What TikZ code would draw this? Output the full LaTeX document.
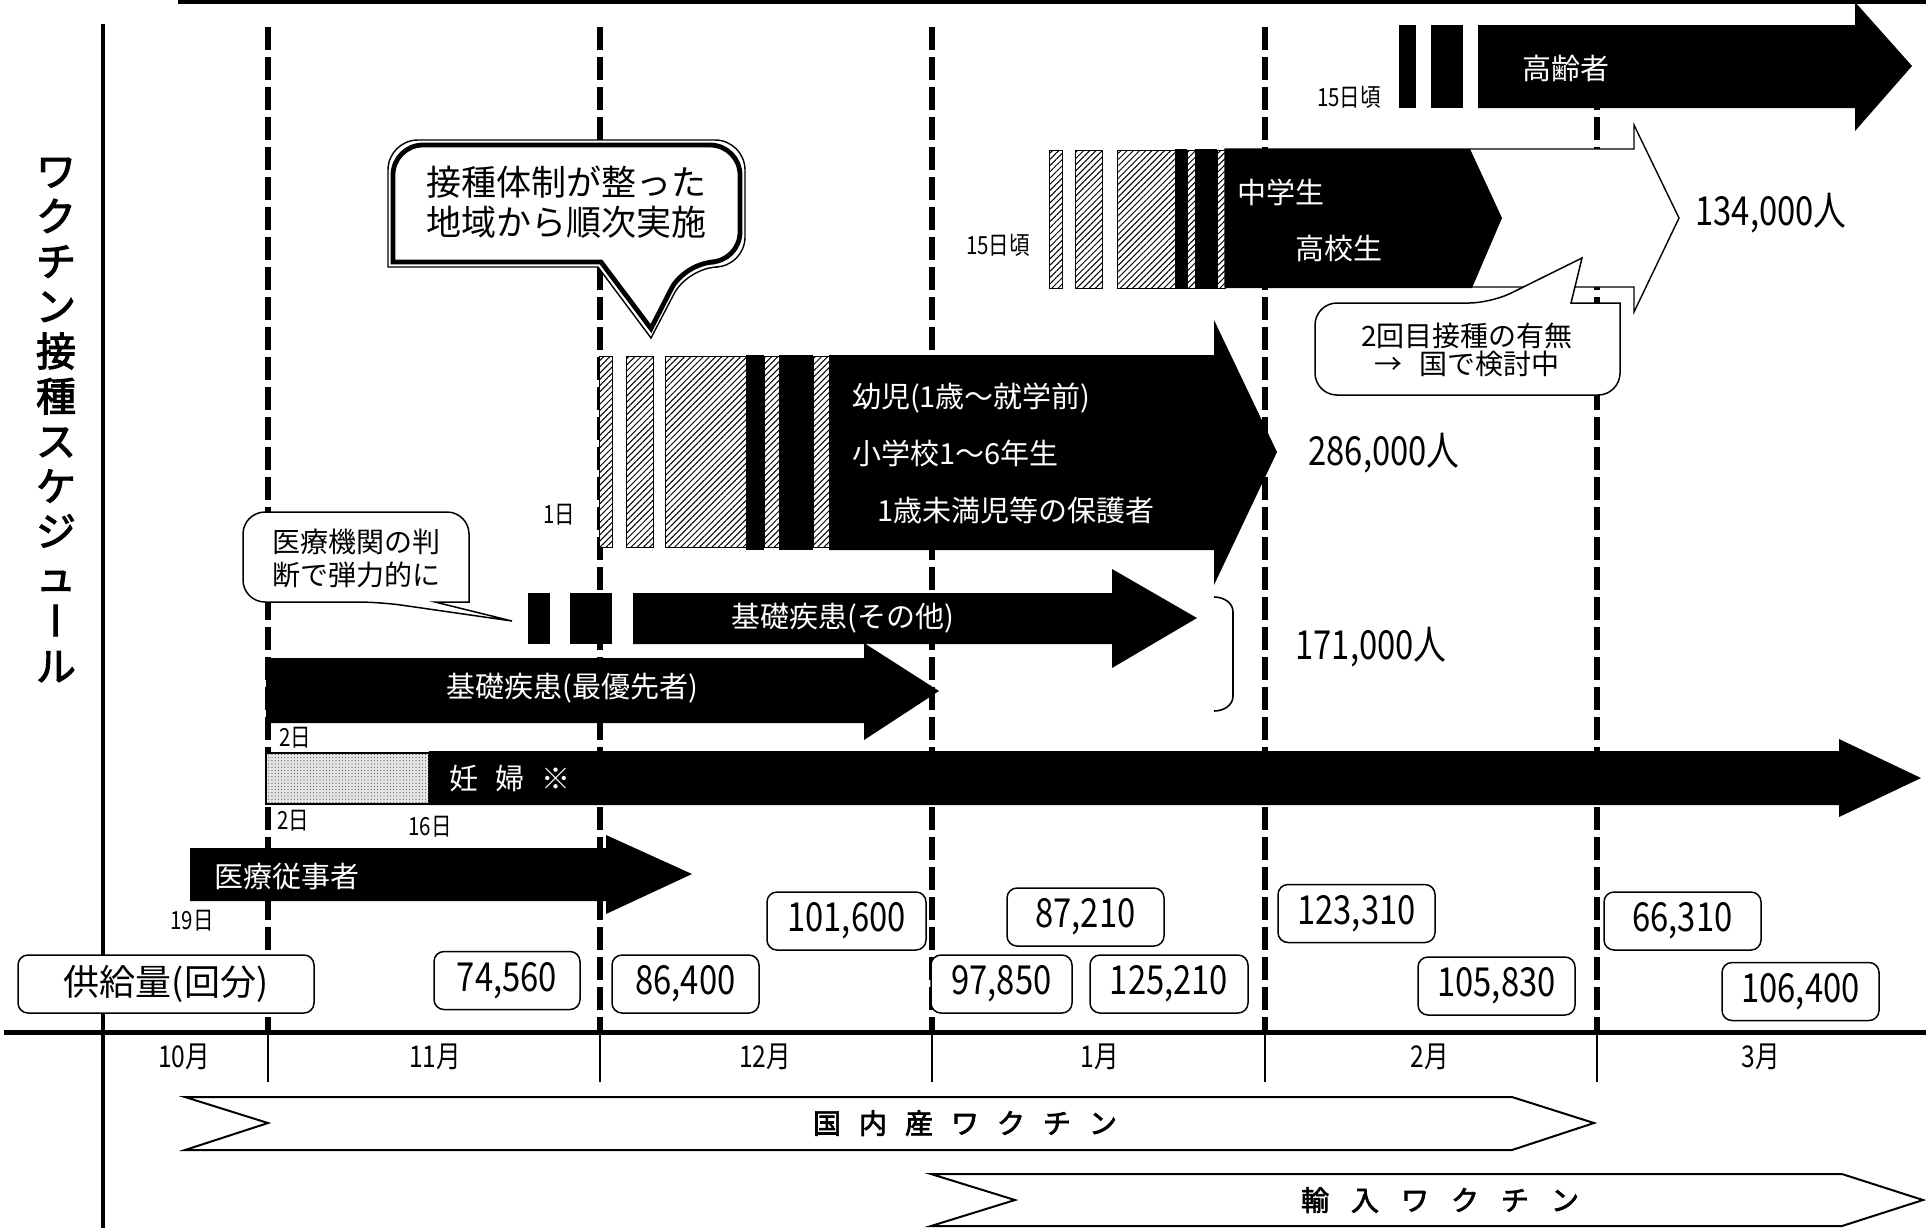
\documentclass[tikz,border=0pt]{standalone}
\usepackage{fontspec}
\setmainfont{Noto Sans CJK JP}
\newfontfamily\numf{Noto Sans CJK JP}[FakeStretch=0.82]
\newfontfamily\jpbf{Noto Sans CJK JP}[FakeBold=2.5]
\usetikzlibrary{patterns.meta}
\newcommand\bubA[1]{(651,{338-1.9*#1}) -- ({598+0.6*#1},{267-#1}) -- ({388+#1},{267-#1}) [rounded corners=15pt] -- ({388+#1},{140+#1}) -- ({745-#1},{140+#1}) -- ({745-#1},{267-#1}) -- ({688-0.6*#1},{267-#1}) [sharp corners] -- cycle}
\tikzset{
  every node/.style={inner sep=0pt, outer sep=0pt},
  dashln/.style={line width=2.6pt, dash pattern=on 11.5pt off 3.5pt},
  tickln/.style={line width=1pt},
  hatch/.style={draw=black, line width=0.5pt, fill=white, postaction={pattern={Lines[angle=45,distance=2.2pt,line width=0.5pt]}, pattern color=black}},
  wtxt/.style={text=white, font=\fontsize{14.5}{16}\selectfont},
  lbl/.style={font=\numf\fontsize{12.5}{14}\selectfont},
  big/.style={font=\numf\fontsize{20}{22}\selectfont},
  mon/.style={font=\numf\fontsize{15}{17}\selectfont},
  supbox/.style={draw, line width=0.75pt, rounded corners=5pt, fill=white, minimum height=29pt, minimum width=#1, font=\numf\fontsize{20}{22}\selectfont},
  thincall/.style={draw, line width=0.75pt, fill=white},
  banner/.style={draw, line width=1pt, fill=white},
  bantxt/.style={font=\jpbf\fontsize{14}{16}\selectfont}
}
\begin{document}
\begin{tikzpicture}[x=0.5pt, y=-0.5pt]
\useasboundingbox (0,0) rectangle (1926,1228);
\fill[white] (0,0) rectangle (1926,1228);

% month separators
\foreach \x in {268,600,932,1265,1597} {
  \draw[dashln] (\x,27) -- (\x,1030);
  \draw[tickln] (\x,1034) -- (\x,1082);
}
\draw[line width=2pt] (103,24) -- (103,1228);
\draw[line width=2.5pt] (4,1032) -- (1926,1032);
\draw[line width=2pt] (178,2) -- (1926,2);

% title
\node[font=\jpbf\fontsize{20}{22.5}\selectfont, align=center] (title) at (56,420)
  {ワ\\ク\\チ\\ン\\接\\種\\ス\\ケ\\ジ\\ュ\\{\addfontfeature{RawFeature=+vert}ー}\\ル};

% elderly
\fill (1399,25) rectangle (1416,108);
\fill (1431,25) rectangle (1463,108);
\fill (1478,25) -- (1855,25) -- (1855,2) -- (1912,66) -- (1855,131) -- (1855,108) -- (1478,108) -- cycle;
\node[wtxt] (koreisha) at (1566,68) {高齢者};
\node[lbl] (d15a) at (1349,97) {15日頃};

% junior / senior high
\draw[hatch] (1049,150) rectangle (1062,288);
\draw[hatch] (1075,150) rectangle (1102,288);
\draw[hatch] (1117,150) rectangle (1175,288);
\fill (1175,149) rectangle (1187,289);
\draw[hatch] (1187,150) rectangle (1195,288);
\fill (1195,149) rectangle (1217,289);
\draw[hatch] (1217,150) rectangle (1225,288);
\draw[line width=0.7pt, fill=white] (1225,149) -- (1634,149) -- (1634,125) -- (1679,218) -- (1634,312) -- (1634,287) -- (1225,287) -- cycle;
\fill (1225,149) -- (1470,149) -- (1502,218) -- (1472,288) -- (1225,288) -- cycle;
\node[wtxt] (chu) at (1281,192) {中学生};
\node[wtxt] (ko) at (1339,248) {高校生};
\node[lbl] (d15b) at (998,245) {15日頃};
\node[big] (n134) at (1771,213) {134,000人};
\draw[thincall] (1582,258) -- (1571,303) -- (1620,303) [rounded corners=11pt] -- (1620,395) -- (1315,395) -- (1315,303) -- (1491,303) [sharp corners] -- cycle;
\node[align=center, font=\fontsize{14}{14}\selectfont] (call3) at (1467,350) {2回目接種の有無\\→\hspace{0.6em}国で検討中};

% infants
\draw[hatch] (599,356) rectangle (612,547);
\draw[hatch] (626,356) rectangle (653,547);
\draw[hatch] (665,356) rectangle (746,547);
\fill (746,355) rectangle (764,550);
\draw[hatch] (764,356) rectangle (779,547);
\fill (779,355) rectangle (813,550);
\draw[hatch] (813,356) rectangle (829,547);
\fill (829,355) -- (1214,355) -- (1214,320) -- (1277,452) -- (1214,585) -- (1214,550) -- (829,550) -- cycle;
\node[wtxt, anchor=west] (yoji) at (852,398) {幼児(1歳～就学前)};
\node[wtxt, anchor=west] (shogaku) at (852,453) {小学校1～6年生};
\node[wtxt, anchor=west] (hogosha) at (877,510) {1歳未満児等の保護者};
\node[lbl] (d1) at (559,515) {1日};
\node[big] (n286) at (1384,453) {286,000人};

% callout 1
\fill[white] \bubA{0};
\draw[line width=0.7pt] \bubA{0};
\draw[line width=2.4pt] \bubA{5};
\node[align=center, font=\fontsize{17.5}{20}\selectfont] (call1) at (566,202) {接種体制が整った\\地域から順次実施};

% underlying disease (other)
\fill (528,593) rectangle (550,644);
\fill (570,593) rectangle (612,644);
\fill (633,593) -- (1112,593) -- (1112,569) -- (1197,618) -- (1112,668) -- (1112,644) -- (633,644) -- cycle;
\node[wtxt] (sonota) at (843,618) {基礎疾患(その他)};

% callout 2
\draw[thincall] (512,621) -- (435,602) -- (469,602) [rounded corners=11pt] -- (469,512) -- (243,512) -- (243,602) -- (380,602) [sharp corners] -- cycle;
\node[align=center, font=\fontsize{14}{16.5}\selectfont] (call2) at (356,558) {医療機関の判\\断で弾力的に};

% bracket
\draw[line width=0.8pt] (1214,597) to[out=0,in=90] (1233,612) -- (1233,696) to[out=-90,in=0] (1214,711);
\node[big] (n171) at (1371,647) {171,000人};

% underlying disease (top priority)
\fill (266,658) -- (864,658) -- (864,643) -- (939,691) -- (864,740) -- (864,723) -- (266,723) -- cycle;
\node[wtxt] (saiyusen) at (572,688) {基礎疾患(最優先者)};

% pregnant women
\draw[line width=0.6pt, fill=black!10, postaction={pattern={Dots[distance=1.6pt,radius=0.3pt]}, pattern color=black!70}] (266,753) rectangle (429,804);
\fill (429,751) -- (1839,751) -- (1839,739) -- (1921,778) -- (1839,817) -- (1839,805) -- (429,805) -- cycle;
\node[wtxt, anchor=west] (ninpu) at (449,778) {妊\hspace{0.6em}婦\hspace{0.6em}※};
\node[lbl, anchor=west] (d2a) at (279,738) {2日};
\node[lbl, anchor=west] (d2b) at (277,821) {2日};
\node[lbl] (d16) at (430,827) {16日};

% medical workers
\fill (190,848) -- (606,848) -- (606,835) -- (692,874) -- (606,914) -- (606,901) -- (190,901) -- cycle;
\node[wtxt, anchor=west] (iryo) at (214,877) {医療従事者};
\node[lbl] (d19) at (192,921) {19日};

% supply boxes
\node[supbox=148pt, font=\fontsize{18}{20}\selectfont] (kyokyu) at (166,984) {供給量(回分)};
\node[supbox=73pt] (s1) at (507,980.5) {74,560};
\node[supbox=73.5pt] (s2) at (685.5,984) {86,400};
\node[supbox=79.5pt] (s3) at (846.5,921) {101,600};
\node[supbox=70.5pt] (s4) at (1001.5,984) {97,850};
\node[supbox=79pt] (s5) at (1169,984) {125,210};
\node[supbox=78.5pt] (s6) at (1085.5,917) {87,210};
\node[supbox=78.5pt] (s7) at (1356.5,913.5) {123,310};
\node[supbox=78.5pt] (s8) at (1496.5,986) {105,830};
\node[supbox=78.5pt] (s9) at (1682.5,921) {66,310};
\node[supbox=78.5pt] (s10) at (1800.5,991.5) {106,400};

% months
\node[mon] (m10) at (184,1057) {10月};
\node[mon] (m11) at (435,1057) {11月};
\node[mon] (m12) at (765,1057) {12月};
\node[mon] (m1) at (1100,1057) {1月};
\node[mon] (m2) at (1430,1057) {2月};
\node[mon] (m3) at (1761,1057) {3月};

% banners
\draw[banner] (185,1097) -- (1512,1097) -- (1594,1123) -- (1512,1150) -- (185,1150) -- (268,1123) -- cycle;
\node[bantxt] (kokunai) at (965,1123) {国\hspace{9pt}内\hspace{9pt}産\hspace{9pt}ワ\hspace{9pt}ク\hspace{9pt}チ\hspace{9pt}ン};
\draw[banner] (931,1174) -- (1842,1174) -- (1923,1200) -- (1842,1226) -- (931,1226) -- (1015,1200) -- cycle;
\node[bantxt] (yunyu) at (1440,1200) {輸\hspace{11pt}入\hspace{11pt}ワ\hspace{11pt}ク\hspace{11pt}チ\hspace{11pt}ン};
\end{tikzpicture}
\end{document}
